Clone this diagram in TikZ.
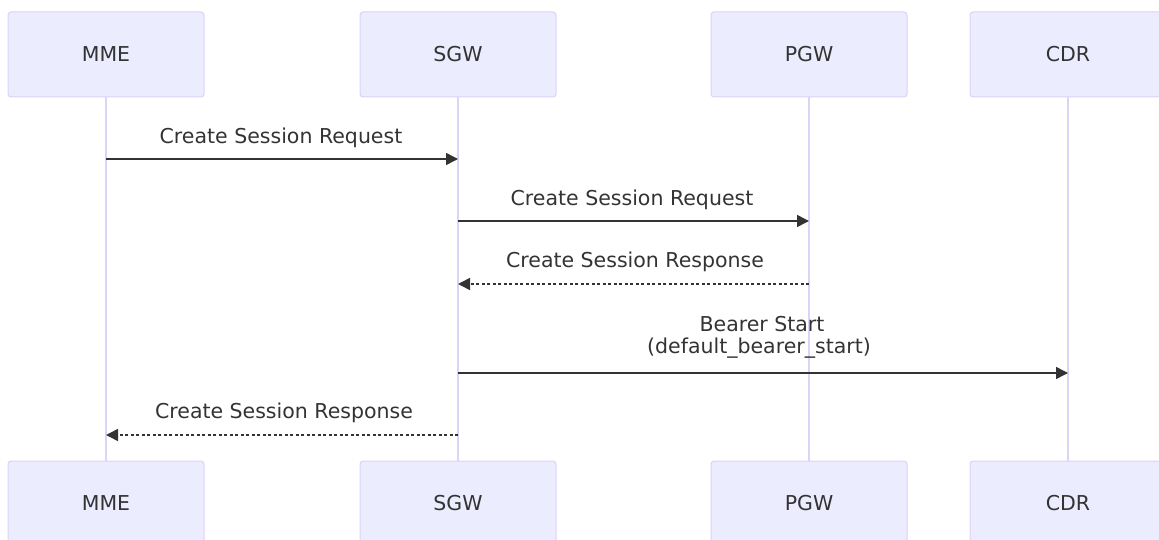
\documentclass[tikz,border=0pt]{standalone}
\usepackage{fontspec}
\setmainfont{DejaVu Sans}
\usetikzlibrary{arrows.meta}
\definecolor{actfill}{HTML}{ECECFF}
\definecolor{actline}{HTML}{DCD2F6}
\definecolor{lifeln}{HTML}{DDD3F6}
\definecolor{txt}{HTML}{333333}
\begin{document}
\begin{tikzpicture}[x=1pt,y=-1pt,
  actor/.style={draw=actline, line width=1pt, fill=actfill, rounded corners=3pt,
    minimum width=196pt, minimum height=85pt, inner sep=0pt,
    font=\fontsize{20.5}{24}\selectfont, text=txt},
  lifeline/.style={draw=lifeln, line width=1.6pt},
  msg/.style={draw=txt, line width=1.5pt, -{Triangle[length=12pt,width=12pt]}},
  reply/.style={msg, dash pattern=on 3pt off 2.5pt},
  lbl/.style={font=\fontsize{20.5}{24}\selectfont, text=txt, inner sep=0pt, align=center}]
\useasboundingbox (0,0) rectangle (1159,540);
\clip (0,0) rectangle (1159,540);
% actors top
\node[actor] (mmeT) at (106,54.5) {\raisebox{-2pt}{MME}};
\node[actor] (sgwT) at (458,54.5) {\raisebox{-2pt}{SGW}};
\node[actor] (pgwT) at (809,54.5) {\raisebox{-2pt}{PGW}};
\node[actor] (cdrT) at (1068,54.5) {\raisebox{-2pt}{CDR}};
% actors bottom
\node[actor] (mmeB) at (106,503.5) {\raisebox{-2pt}{MME}};
\node[actor] (sgwB) at (458,503.5) {\raisebox{-2pt}{SGW}};
\node[actor] (pgwB) at (809,503.5) {\raisebox{-2pt}{PGW}};
\node[actor] (cdrB) at (1068,503.5) {\raisebox{-2pt}{CDR}};
% lifelines
\draw[lifeline] (mmeT.south) -- (mmeB.north);
\draw[lifeline] (sgwT.south) -- (sgwB.north);
\draw[lifeline] (pgwT.south) -- (pgwB.north);
\draw[lifeline] (cdrT.south) -- (cdrB.north);
% message anchor points
\coordinate (m1a) at (mmeT.south |- 0,159);
\coordinate (m1b) at (sgwT.south |- 0,159);
\coordinate (m2a) at (sgwT.south |- 0,221);
\coordinate (m2b) at (pgwT.south |- 0,221);
\coordinate (m3a) at (pgwT.south |- 0,284);
\coordinate (m3b) at (sgwT.south |- 0,284);
\coordinate (m4a) at (sgwT.south |- 0,373);
\coordinate (m4b) at (cdrT.south |- 0,373);
\coordinate (m5a) at (sgwT.south |- 0,435);
\coordinate (m5b) at (mmeT.south |- 0,435);
% messages
\draw[msg] (m1a) -- (m1b);
\node[lbl] (l1) at (281,138) {Create Session Request};
\draw[msg] (m2a) -- (m2b);
\node[lbl] (l2) at (632,200) {Create Session Request};
\draw[reply] (m3a) -- (m3b);
\node[lbl] (l3) at (635,262) {Create Session Response};
\draw[msg] (m4a) -- (m4b);
\node[lbl] (l4a) at (762,324) {Bearer Start};
\node[lbl] (l4b) at (759,348) {(default\_bearer\_start)};
\draw[reply] (m5a) -- (m5b);
\node[lbl] (l5) at (284,413) {Create Session Response};
\end{tikzpicture}
\end{document}
